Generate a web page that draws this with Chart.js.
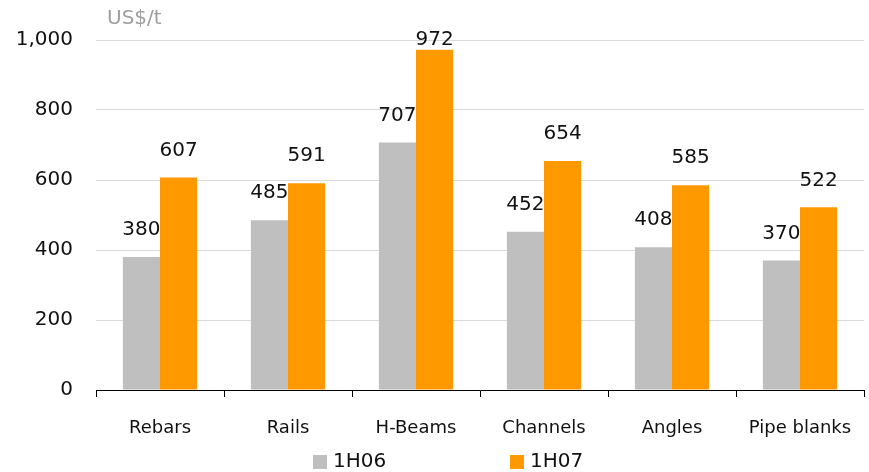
<!DOCTYPE html>
<html>
<head>
<meta charset="utf-8">
<script src="https://cdn.jsdelivr.net/npm/chart.js@4/dist/chart.umd.min.js"></script>
<style>
  html, body { margin: 0; padding: 0; background: #ffffff; }
  #wrap { width: 869px; height: 472px; }
</style>
</head>
<body>
<div id="wrap"><canvas id="c" width="869" height="472"></canvas></div>
<script>
// Steel product prices, US$ per tonne
const categories = ['Rebars', 'Rails', 'H-Beams', 'Channels', 'Angles', 'Pipe blanks'];
const prices1H06 = [380, 485, 707, 452, 408, 370];
const prices1H07 = [607, 591, 972, 654, 585, 522];
const seriesNames = ['1H06', '1H07'];
const yTicks = [0, 200, 400, 600, 800, 1000];
const unitLabel = 'US$/t';

const FONT = '"DejaVu Sans", sans-serif';
const GREY = '#bfbfbf';
const ORANGE = '#ff9900';
const TEXT = '#111111';

// Value labels above each bar, kept inside the plot area at the top
const valueLabels = {
  id: 'valueLabels',
  afterDatasetsDraw(chart) {
    const ctx = chart.ctx;
    ctx.save();
    ctx.font = '20px ' + FONT;
    ctx.fillStyle = TEXT;
    ctx.textAlign = 'center';
    ctx.textBaseline = 'middle';
    chart.data.datasets.forEach((ds, di) => {
      chart.getDatasetMeta(di).data.forEach((bar, i) => {
        const y = Math.max(bar.y - 27, chart.chartArea.top);
        ctx.fillText(String(ds.data[i]), bar.x, y);
      });
    });
    ctx.restore();
  }
};

// Unit caption and bottom legend
const extras = {
  id: 'extras',
  afterDraw(chart) {
    const ctx = chart.ctx;
    const area = chart.chartArea;
    ctx.save();
    ctx.font = '20px ' + FONT;
    ctx.fillStyle = '#9e9e9e';
    ctx.textAlign = 'left';
    ctx.textBaseline = 'middle';
    ctx.fillText(unitLabel, area.left + 11, 19);

    const starts = [313, 510];
    const legendY = 462;
    chart.data.datasets.forEach((ds, di) => {
      const x = starts[di];
      ctx.fillStyle = ds.backgroundColor;
      ctx.fillRect(x, legendY - 7, 14, 14);
      ctx.fillStyle = TEXT;
      ctx.fillText(ds.label, x + 20, legendY);
    });
    ctx.restore();
  }
};

new Chart(document.getElementById('c'), {
  type: 'bar',
  data: {
    labels: categories,
    datasets: [
      { label: seriesNames[0], data: prices1H06, backgroundColor: GREY },
      { label: seriesNames[1], data: prices1H07, backgroundColor: ORANGE }
    ]
  },
  options: {
    responsive: false,
    animation: false,
    devicePixelRatio: 1,
    layout: { padding: { top: 40, right: 5, left: 0, bottom: 0 } },
    datasets: { bar: { categoryPercentage: 0.58, barPercentage: 1.0 } },
    plugins: {
      legend: { display: false },
      tooltip: { enabled: false }
    },
    scales: {
      x: {
        afterFit(scale) {
          scale.height = 82;
          scale.paddingLeft = 0;
          scale.paddingRight = 0;
        },
        grid: {
          offset: true,
          drawOnChartArea: false,
          drawTicks: true,
          tickLength: 7,
          color: '#000000',
          lineWidth: 1
        },
        border: { display: true, color: '#000000', width: 1 },
        ticks: {
          color: TEXT,
          font: { family: FONT, size: 18 },
          padding: 21,
          maxRotation: 0
        }
      },
      y: {
        min: yTicks[0],
        max: yTicks[yTicks.length - 1],
        afterFit(scale) { scale.width = 96; },
        afterBuildTicks(scale) { scale.ticks = yTicks.map(v => ({ value: v })); },
        grid: { color: '#d9d9d9', lineWidth: 1, drawTicks: false },
        border: { display: false },
        ticks: {
          color: TEXT,
          font: { family: FONT, size: 20 },
          padding: 23,
          callback: v => v.toLocaleString('en-US')
        }
      }
    }
  },
  plugins: [valueLabels, extras]
});
</script>
</body>
</html>
